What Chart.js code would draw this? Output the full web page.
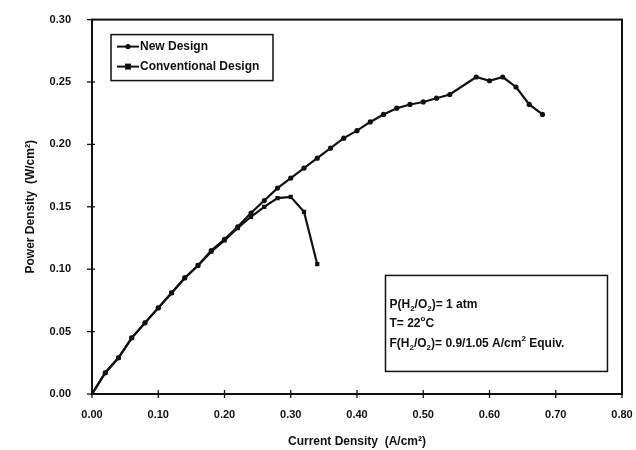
<!DOCTYPE html>
<html>
<head>
<meta charset="utf-8">
<script src="https://cdn.jsdelivr.net/npm/chart.js@4.4.1/dist/chart.umd.min.js"></script>
<style>
  html, body { margin: 0; padding: 0; background: #fff; }
  #wrap { width: 636px; height: 450px; }
</style>
</head>
<body>
<div id="wrap"><canvas id="chart" width="636" height="450"></canvas></div>
<script>
// Data
const newDesignX = [0.00, 0.02, 0.04, 0.06, 0.08, 0.10, 0.12, 0.14, 0.16, 0.18, 0.20, 0.22, 0.24, 0.26, 0.28, 0.30, 0.32, 0.34,
  0.36, 0.38, 0.40, 0.42, 0.44, 0.46, 0.48, 0.50, 0.52, 0.54, 0.58, 0.60, 0.62, 0.64, 0.66, 0.68];
const newDesignY = [0.000, 0.017, 0.029, 0.045, 0.057, 0.069, 0.081, 0.093, 0.103, 0.115, 0.124, 0.134, 0.145, 0.155, 0.165, 0.173, 0.181, 0.189,
  0.197, 0.205, 0.211, 0.218, 0.224, 0.229, 0.232, 0.234, 0.237, 0.240, 0.254, 0.251, 0.254, 0.246, 0.232, 0.224];

const convX = [0.00, 0.02, 0.04, 0.06, 0.08, 0.10, 0.12, 0.14, 0.16, 0.18, 0.20, 0.22, 0.24, 0.26, 0.28, 0.30, 0.32, 0.34];
const convY = [0.000, 0.017, 0.029, 0.045, 0.057, 0.069, 0.081, 0.093, 0.103, 0.114, 0.123, 0.133, 0.142, 0.150, 0.157, 0.158, 0.146, 0.104];

const xTicks = [0.00, 0.10, 0.20, 0.30, 0.40, 0.50, 0.60, 0.70, 0.80];
const yTicks = [0.00, 0.05, 0.10, 0.15, 0.20, 0.25, 0.30];

const seriesNames = ['New Design', 'Conventional Design'];
const noteLines = [
  [['P(H', ''], ['2', 'sub'], ['/O', ''], ['2', 'sub'], [')= 1 atm', '']],
  [['T= 22', ''], ['o', 'sup'], ['C', '']],
  [['F(H', ''], ['2', 'sub'], ['/O', ''], ['2', 'sub'], [')= 0.9/1.05 A/cm', ''], ['2', 'sup'], [' Equiv.', '']]
];

const INK = '#111';
const FONT = 'Liberation Sans, Arial, sans-serif';

function toPoints(xs, ys) {
  return xs.map((x, i) => ({ x: x, y: ys[i] }));
}

function drawMarker(ctx, style, x, y, r) {
  ctx.beginPath();
  if (style === 'rect') {
    ctx.rect(x - r, y - r, 2 * r, 2 * r);
  } else {
    ctx.arc(x, y, r, 0, Math.PI * 2);
  }
  ctx.fill();
}

function drawRich(ctx, parts, x, y) {
  let cx = x;
  parts.forEach(([txt, kind]) => {
    let size = 12, dy = 0;
    if (kind === 'sub') { size = 8; dy = 4; }
    if (kind === 'sup') { size = 8; dy = -5; }
    ctx.font = 'bold ' + size + 'px ' + FONT;
    ctx.fillText(txt, cx, y + dy);
    cx += ctx.measureText(txt).width;
  });
}

// frame, crossing tick marks, legend box and note box
const decorations = {
  id: 'decorations',
  afterDraw(chart) {
    const ctx = chart.ctx;
    const area = chart.chartArea;
    const xs = chart.scales.x, ys = chart.scales.y;
    ctx.save();
    ctx.strokeStyle = INK;
    ctx.fillStyle = INK;
    ctx.lineWidth = 2;
    ctx.strokeRect(area.left, area.top, area.right - area.left, area.bottom - area.top);

    ctx.lineWidth = 1.3;
    xTicks.forEach(v => {
      const px = xs.getPixelForValue(v);
      ctx.beginPath();
      ctx.moveTo(px, area.bottom - 4);
      ctx.lineTo(px, area.bottom + 4);
      ctx.stroke();
    });
    yTicks.forEach(v => {
      const py = ys.getPixelForValue(v);
      ctx.beginPath();
      ctx.moveTo(area.left - 5, py);
      ctx.lineTo(area.left + 3, py);
      ctx.stroke();
    });

    // legend
    const lx = area.left + 19, ly = area.top + 15;
    ctx.lineWidth = 1.5;
    ctx.strokeRect(lx, ly, 162, 46);
    chart.data.datasets.forEach((ds, i) => {
      const y = ly + 12 + i * 20;
      ctx.lineWidth = 2;
      ctx.beginPath();
      ctx.moveTo(lx + 6, y);
      ctx.lineTo(lx + 28, y);
      ctx.stroke();
      drawMarker(ctx, ds.pointStyle, lx + 17, y, ds.pointRadius);
      ctx.font = 'bold 12px ' + FONT;
      ctx.textBaseline = 'middle';
      ctx.textAlign = 'left';
      ctx.fillText(ds.label, lx + 29, y);
    });

    // note box
    const bx = xs.getPixelForValue(0.443), by = ys.getPixelForValue(0.095);
    const bw = 222, bh = 96;
    ctx.lineWidth = 1.5;
    ctx.fillStyle = '#fff';
    ctx.fillRect(bx, by, bw, bh);
    ctx.strokeRect(bx, by, bw, bh);
    ctx.fillStyle = INK;
    ctx.textBaseline = 'middle';
    ctx.textAlign = 'left';
    noteLines.forEach((parts, i) => {
      drawRich(ctx, parts, bx + 4, by + 29 + i * 19.5);
    });
    ctx.restore();
  }
};

new Chart(document.getElementById('chart'), {
  type: 'line',
  data: {
    datasets: [
      {
        label: seriesNames[0],
        data: toPoints(newDesignX, newDesignY),
        borderColor: INK,
        backgroundColor: INK,
        borderWidth: 2.2,
        pointStyle: 'circle',
        pointRadius: 2.6,
        pointBorderWidth: 0,
        tension: 0
      },
      {
        label: seriesNames[1],
        data: toPoints(convX, convY),
        borderColor: INK,
        backgroundColor: INK,
        borderWidth: 2.2,
        pointStyle: 'rect',
        pointRadius: 3,
        pointBorderWidth: 0,
        tension: 0
      }
    ]
  },
  options: {
    responsive: false,
    animation: false,
    devicePixelRatio: 1,
    layout: { padding: { left: 0, top: 17, right: 14, bottom: 0 } },
    plugins: {
      legend: { display: false },
      tooltip: { enabled: false }
    },
    scales: {
      x: {
        type: 'linear',
        min: 0,
        max: 0.8,
        afterBuildTicks: (scale) => { scale.ticks = xTicks.map(v => ({ value: v })); },
        afterFit: (scale) => {
          scale.height = 56;
          scale.paddingLeft = 0;
          scale.paddingRight = 0;
        },
        grid: { display: false },
        border: { display: false },
        ticks: {
          color: INK,
          padding: 6,
          maxRotation: 0,
          font: { family: FONT, size: 11, weight: 'bold' },
          callback: (v) => Number(v).toFixed(2)
        },
        title: {
          display: true,
          text: 'Current Density  (A/cm²)',
          color: INK,
          font: { family: FONT, size: 12, weight: 'bold' },
          padding: { top: 0, bottom: 1 }
        }
      },
      y: {
        min: 0,
        max: 0.3,
        afterBuildTicks: (scale) => { scale.ticks = yTicks.map(v => ({ value: v })); },
        afterFit: (scale) => { scale.width = 92; },
        grid: { display: false },
        border: { display: false },
        ticks: {
          color: INK,
          padding: 13,
          font: { family: FONT, size: 11, weight: 'bold' },
          callback: (v) => Number(v).toFixed(2)
        },
        title: {
          display: true,
          text: 'Power Density  (W/cm²)',
          color: INK,
          font: { family: FONT, size: 12, weight: 'bold' },
          padding: { top: 23, bottom: 0 }
        }
      }
    }
  },
  plugins: [decorations]
});
</script>
</body>
</html>
